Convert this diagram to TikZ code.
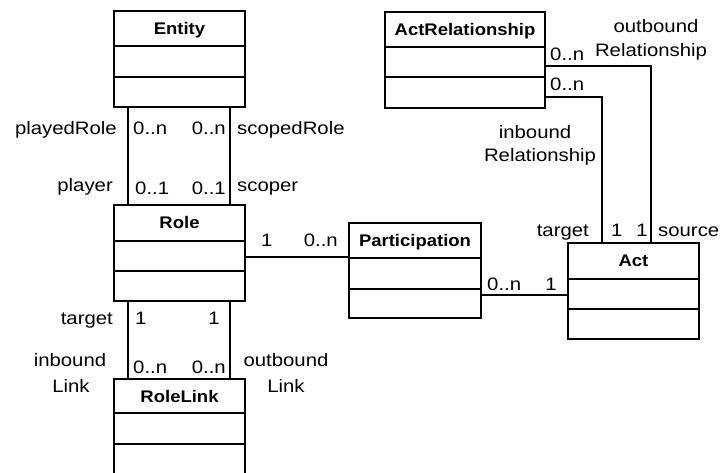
\documentclass[tikz,border=0pt]{standalone}
\usepackage{fontspec}
\setmainfont{Liberation Sans}[FakeStretch=1.13]
\newfontfamily\classfont{Liberation Sans}[FakeStretch=1.1]
\usetikzlibrary{fit}

\tikzset{
  classframe/.style={draw, line width=1.8bp, rectangle, inner sep=0pt, outer sep=0pt},
  classline/.style={line width=1.8bp},
  classtitle/.style={inner sep=0pt, anchor=base, font=\classfont\bfseries\fontsize{16.8bp}{19bp}\selectfont},
  assoc/.style={line width=1.8bp},
  lbl/.style={inner sep=0pt, font=\fontsize{18bp}{20bp}\selectfont},
}

% #1 name, #2 title, #3 left, #4 top, #5 right, #6 bottom, #7/#8 compartment dividers
\newcommand\umlclass[8]{%
  \node[classframe, fit={(#3,#4) (#5,#6)}] (#1) {};
  \draw[classline] (#1.west |- 0,#7) -- (#1.east |- 0,#7);
  \draw[classline] (#1.west |- 0,#8) -- (#1.east |- 0,#8);
  \node[classtitle] (#1-title) at ({(#3+#5)/2},{(#4+#7)/2+6}) {#2};
}

\begin{document}
\begin{tikzpicture}[x=1bp,y=-1bp]
\clip (0,0) rectangle (723,473);
\fill[white] (0,0) rectangle (723,473);

% classes
\umlclass{entity}{Entity}{114}{11}{245}{107}{46}{77}
\umlclass{role}{Role}{114}{205}{245}{301}{241}{271}
\umlclass{rolelink}{RoleLink}{114}{379}{245}{482}{413}{444}
\umlclass{particip}{Participation}{349}{223}{481}{318}{258}{289}
\umlclass{act}{Act}{568}{243}{699}{339}{279}{309}
\umlclass{actrel}{ActRelationship}{385}{12}{545}{108}{47}{77}

% associations
\draw[assoc] ([xshift=14bp]entity.south west) -- ([xshift=14bp]role.north west);
\draw[assoc] ([xshift=-15bp]entity.south east) -- ([xshift=-15bp]role.north east);
\draw[assoc] ([xshift=14bp]role.south west) -- ([xshift=14bp]rolelink.north west);
\draw[assoc] ([xshift=-15bp]role.south east) -- ([xshift=-15bp]rolelink.north east);
\draw[assoc] (role.east |- 0,257) -- (particip.west |- 0,257);
\draw[assoc] (particip.east |- 0,295) -- (act.west |- 0,295);
\draw[assoc] (actrel.east |- 0,66) -| ([xshift=-48bp]act.north east);
\draw[assoc] (actrel.east |- 0,97) -| ([xshift=34bp]act.north west);

% Entity -- Role
\node[lbl, anchor=base east] (playedrole) at (117,135) {playedRole};
\node[lbl, anchor=base west] (playedrole-m) at (133,135) {0..n};
\node[lbl, anchor=base east] (scopedrole-m) at (226,135) {0..n};
\node[lbl, anchor=base west] (scopedrole) at (237,135) {scopedRole};
\node[lbl, anchor=base east] (player) at (113,192) {player};
\node[lbl, anchor=base west] (player-m) at (135,195) {0..1};
\node[lbl, anchor=base east] (scoper-m) at (226,195) {0..1};
\node[lbl, anchor=base west] (scoper) at (237,192) {scoper};

% Role -- RoleLink
\node[lbl, anchor=base east] (rl-target) at (113,325) {target};
\node[lbl, anchor=base west] (rl-target-m) at (135,325) {1};
\node[lbl, anchor=base east] (rl-source-m) at (220,325) {1};
\node[lbl, anchor=base] (inlink-a) at (70,366) {inbound};
\node[lbl, anchor=base] (inlink-b) at (71,392) {Link};
\node[lbl, anchor=base west] (inlink-m) at (133,373) {0..n};
\node[lbl, anchor=base east] (outlink-m) at (226,373) {0..n};
\node[lbl, anchor=base] (outlink-a) at (286,366) {outbound};
\node[lbl, anchor=base] (outlink-b) at (286,392) {Link};

% Role -- Participation
\node[lbl, anchor=base west] (rp-role-m) at (261,247) {1};
\node[lbl, anchor=base east] (rp-part-m) at (338,247) {0..n};

% Participation -- Act
\node[lbl, anchor=base west] (pa-part-m) at (487,291) {0..n};
\node[lbl, anchor=base east] (pa-act-m) at (557,291) {1};

% ActRelationship -- Act
\node[lbl, anchor=base east] (ar-target) at (589,237) {target};
\node[lbl, anchor=base west] (ar-target-m) at (611,237) {1};
\node[lbl, anchor=base east] (ar-source-m) at (648,237) {1};
\node[lbl, anchor=base west] (ar-source) at (658,237) {source};
\node[lbl, anchor=base] (outrel-a) at (656,33) {outbound};
\node[lbl, anchor=base] (outrel-b) at (651,57) {Relationship};
\node[lbl, anchor=base west] (outrel-m) at (550,61) {0..n};
\node[lbl, anchor=base west] (inrel-m) at (550,91) {0..n};
\node[lbl, anchor=base] (inrel-a) at (535,139) {inbound};
\node[lbl, anchor=base] (inrel-b) at (540,162) {Relationship};
\end{tikzpicture}
\end{document}
